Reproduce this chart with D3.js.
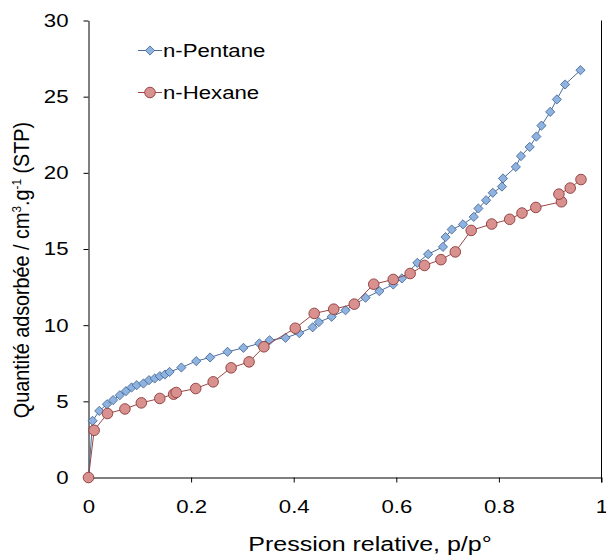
<!DOCTYPE html>
<html>
<head>
<meta charset="utf-8">
<script src="https://cdn.jsdelivr.net/npm/d3@7"></script>
<style>
  html, body { margin: 0; padding: 0; background: #fff; }
  svg { display: block; }
  text { font-family: "Liberation Sans", Arial, sans-serif; fill: #000; }
</style>
</head>
<body>
<svg id="chart" width="606" height="556"></svg>
<script>
// Adsorption isotherms: relative pressure vs adsorbed amount
const pentaneP = [0, 0.008, 0.021, 0.036, 0.048, 0.061, 0.073, 0.084, 0.094, 0.107, 0.118, 0.129, 0.139, 0.149, 0.158, 0.181, 0.21, 0.237, 0.271, 0.302, 0.333, 0.353, 0.384, 0.411, 0.437, 0.449, 0.474, 0.501, 0.540, 0.567, 0.594, 0.611, 0.641, 0.662, 0.691, 0.696, 0.708, 0.730, 0.751, 0.760, 0.775, 0.788, 0.806, 0.808, 0.833, 0.843, 0.860, 0.873, 0.883, 0.900, 0.913, 0.929, 0.959];
const pentaneV = [0, 3.72, 4.37, 4.81, 5.08, 5.40, 5.67, 5.91, 6.06, 6.17, 6.39, 6.50, 6.65, 6.76, 6.93, 7.22, 7.64, 7.88, 8.25, 8.51, 8.80, 9.01, 9.17, 9.48, 9.86, 10.2, 10.55, 10.98, 11.8, 12.23, 12.67, 13.07, 14.09, 14.66, 15.14, 15.78, 16.28, 16.62, 17.11, 17.66, 18.2, 18.69, 19.1, 19.63, 20.39, 21.1, 21.7, 22.38, 23.1, 24.0, 24.82, 25.8, 26.74];

const hexaneP = [0, 0.011, 0.037, 0.071, 0.103, 0.139, 0.166, 0.171, 0.209, 0.243, 0.278, 0.313, 0.342, 0.403, 0.440, 0.478, 0.518, 0.556, 0.594, 0.627, 0.655, 0.687, 0.715, 0.746, 0.786, 0.821, 0.845, 0.872, 0.922, 0.917, 0.939, 0.960];
const hexaneV = [0, 3.1, 4.2, 4.5, 4.9, 5.19, 5.47, 5.58, 5.84, 6.28, 7.2, 7.59, 8.58, 9.8, 10.77, 11.05, 11.38, 12.69, 13.0, 13.39, 13.92, 14.3, 14.81, 16.22, 16.64, 16.95, 17.36, 17.73, 18.1, 18.6, 19.0, 19.56];

const xTicks = [0, 0.2, 0.4, 0.6, 0.8, 1];
const xTickLabels = ["0", "0.2", "0.4", "0.6", "0.8", "1"];
const yTicks = [0, 5, 10, 15, 20, 25, 30];
const yTickLabels = ["0", "5", "10", "15", "20", "25", "30"];

const seriesNames = ["n-Pentane", "n-Hexane"];
const xTitle = "Pression relative, p/p°";

// Text in this figure is drawn slightly wide
const SX = 1.2;
const FONT = 18.5;

const svg = d3.select("#chart");
const x = d3.scaleLinear().domain([0, 1]).range([88.5, 601.5]);
const y = d3.scaleLinear().domain([0, 30]).range([477.5, 20.5]);

// X axis
const gx = svg.append("g").attr("transform", `translate(0,${y(0)})`)
  .call(d3.axisBottom(x).tickValues(xTicks).tickFormat((d, i) => xTickLabels[i])
    .tickSizeInner(5).tickSizeOuter(0).tickPadding(17));
gx.select(".domain").attr("stroke", "#000").attr("stroke-width", 1);
gx.selectAll(".tick line").attr("stroke", "#000");
gx.selectAll(".tick text").attr("font-size", FONT).attr("font-family", "Liberation Sans, Arial, sans-serif")
  .attr("transform", `scale(${SX},1)`).attr("x", 0);

// Y axis
const gy = svg.append("g").attr("transform", `translate(${x(0)},0)`)
  .call(d3.axisLeft(y).tickValues(yTicks).tickFormat((d, i) => yTickLabels[i])
    .tickSizeInner(5).tickSizeOuter(0).tickPadding(15));
gy.select(".domain").attr("stroke", "#000").attr("stroke-width", 1);
gy.selectAll(".tick line").attr("stroke", "#000");
gy.selectAll(".tick text").attr("font-size", FONT).attr("font-family", "Liberation Sans, Arial, sans-serif")
  .attr("x", -20 / SX).attr("transform", `scale(${SX},1)`);

// Right-hand frame line
svg.append("line")
  .attr("x1", x(1)).attr("x2", x(1))
  .attr("y1", y(30)).attr("y2", y(0) + 5)
  .attr("stroke", "#000").attr("stroke-width", 1);

// Axis titles
svg.append("text")
  .attr("transform", `translate(370,551) scale(1.25,1)`)
  .attr("text-anchor", "middle").attr("font-size", 20)
  .text(xTitle);

const yTitle = svg.append("text")
  .attr("transform", `translate(29,270) rotate(-90) scale(1.07,${SX})`)
  .attr("text-anchor", "middle").attr("font-size", FONT);
yTitle.append("tspan").text("Quantité adsorbée / cm");
yTitle.append("tspan").attr("font-size", 11).attr("dy", -7).text("3");
yTitle.append("tspan").attr("dy", 7).text(".g");
yTitle.append("tspan").attr("font-size", 11).attr("dy", -7).text("-1");
yTitle.append("tspan").attr("dy", 7).text(" (STP)");

const diamond = r => `M0,${-r}L${r},0L0,${r}L${-r},0Z`;

const series = [
  { name: seriesNames[0], P: pentaneP, V: pentaneV, line: "#4a6b99", fill: "#8fb3e0", stroke: "#3b5f8e", shape: "diamond" },
  { name: seriesNames[1], P: hexaneP, V: hexaneV, line: "#9b4644", fill: "#d9918f", stroke: "#8a3b39", shape: "circle" }
];

const lineGen = d3.line().x(d => x(d[0])).y(d => y(d[1]));

series.forEach(s => {
  const pts = s.P.map((p, i) => [p, s.V[i]]);
  const g = svg.append("g");
  g.append("path").datum(pts).attr("d", lineGen)
    .attr("fill", "none").attr("stroke", s.line).attr("stroke-width", 1);
  if (s.shape === "diamond") {
    g.selectAll("path.m").data(pts).join("path").attr("class", "m")
      .attr("d", diamond(4.6))
      .attr("transform", d => `translate(${x(d[0])},${y(d[1])})`)
      .attr("fill", s.fill).attr("stroke", s.stroke).attr("stroke-width", 0.8);
  } else {
    g.selectAll("circle").data(pts).join("circle")
      .attr("cx", d => x(d[0])).attr("cy", d => y(d[1])).attr("r", 5.3)
      .attr("fill", s.fill).attr("stroke", s.stroke).attr("stroke-width", 0.9);
  }
});

// Legend
const legendRows = [{ s: series[0], cy: 50.5 }, { s: series[1], cy: 92.5 }];
legendRows.forEach(({ s, cy }) => {
  const g = svg.append("g");
  g.append("line").attr("x1", 138).attr("x2", 162).attr("y1", cy).attr("y2", cy)
    .attr("stroke", s.line).attr("stroke-width", 1);
  if (s.shape === "diamond") {
    g.append("path").attr("d", diamond(4.6)).attr("transform", `translate(150,${cy})`)
      .attr("fill", s.fill).attr("stroke", s.stroke).attr("stroke-width", 0.8);
  } else {
    g.append("circle").attr("cx", 150).attr("cy", cy).attr("r", 5.3)
      .attr("fill", s.fill).attr("stroke", s.stroke).attr("stroke-width", 0.9);
  }
  g.append("text").attr("transform", `translate(163,${cy + 6.6}) scale(${SX},1)`)
    .attr("font-size", FONT).text(s.name);
});
</script>
</body>
</html>
